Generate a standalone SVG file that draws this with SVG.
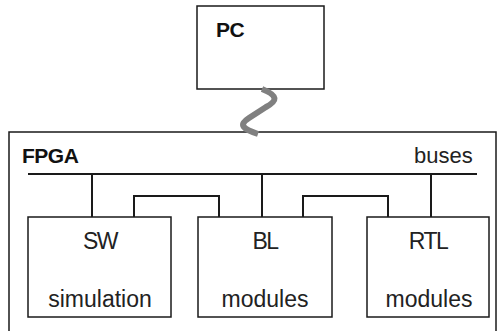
<svg xmlns="http://www.w3.org/2000/svg" width="501" height="331" viewBox="0 0 501 331">
<style>
.box{fill:#fff;stroke:#1a1a1a;stroke-width:1.5}
.ln{fill:none;stroke:#1a1a1a;stroke-width:2}
.t{font-family:"Liberation Sans",Arial,sans-serif;font-size:23px;fill:#222}
.c{letter-spacing:-1.5px}
.b{font-weight:bold;font-size:21px;letter-spacing:-0.5px;fill:#111}
</style>
<rect width="501" height="331" fill="#fff"/>
<g id="pc">
<rect class="box" x="197" y="6" width="127" height="83"/>
<text class="t b" x="216" y="37">PC</text>
</g>
<g id="fpga">
<rect class="box" x="9" y="132" width="487" height="210"/>
<text class="t b" x="22" y="163">FPGA</text>
<text class="t" x="414" y="163" style="font-size:22px">buses</text>
</g>
<g id="sw">
<rect class="box" x="28" y="217" width="143" height="100"/>
<text class="t c" x="100" y="249" text-anchor="middle">SW</text>
<text class="t" x="100" y="307" text-anchor="middle">simulation</text>
</g>
<g id="bl">
<rect class="box" x="198" y="217" width="134" height="100"/>
<text class="t c" x="265" y="249" text-anchor="middle">BL</text>
<text class="t" x="265" y="307" text-anchor="middle">modules</text>
</g>
<g id="rtl">
<rect class="box" x="367" y="217" width="122" height="100"/>
<text class="t c" x="428" y="249" text-anchor="middle">RTL</text>
<text class="t" x="429" y="307" text-anchor="middle">modules</text>
</g>
<g id="connectors">
<path d="M262,89 C279,96 277,101 266,107 L249,118 C238,125 243,129 258,134" fill="none" stroke="#808080" stroke-width="6"/>
<line class="ln" x1="28" y1="174" x2="477" y2="174"/>
<line class="ln" x1="92" y1="174" x2="92" y2="217"/>
<line class="ln" x1="262" y1="174" x2="262" y2="217"/>
<line class="ln" x1="431" y1="174" x2="431" y2="217"/>
<polyline class="ln" points="134,217 134,196 219,196 219,217"/>
<polyline class="ln" points="303,217 303,196 388,196 388,217"/>
</g>
</svg>
